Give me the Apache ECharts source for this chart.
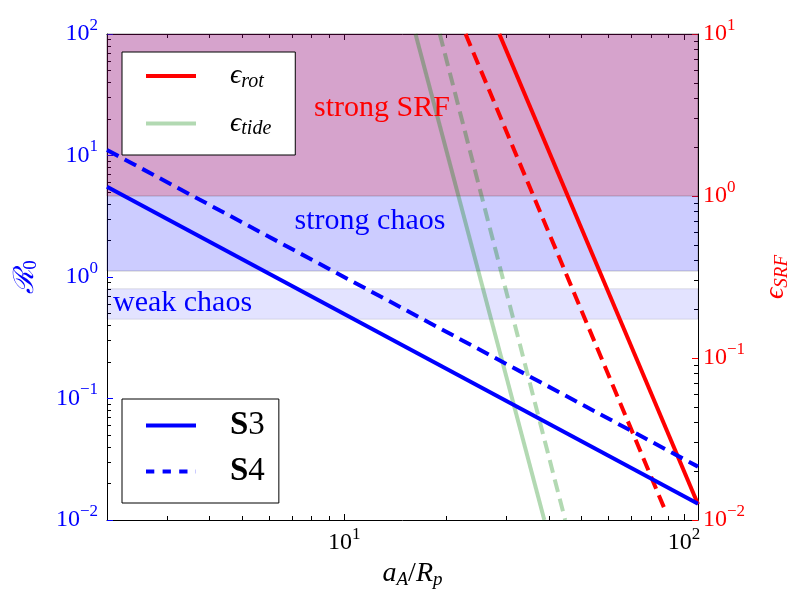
<!DOCTYPE html>
<html><head><meta charset="utf-8">
<script src="https://cdn.jsdelivr.net/npm/echarts@6/dist/echarts.min.js"></script>
<style>html,body{margin:0;padding:0;background:#fff}#c{width:800px;height:600px}</style>
</head><body><div id="c"></div>
<script>
// ---- data ----
const xRange = [2, 110];
const r0Range = [0.01, 100];
const srfRange = [0.01, 10];
const xMajor = [10, 100];
const xMinor = [3, 4, 5, 6, 7, 8, 9, 20, 30, 40, 50, 60, 70, 80, 90];
const r0Major = [0.01, 0.1, 1, 10, 100];
const r0Minor = [0.02, 0.03, 0.04, 0.05, 0.06, 0.07, 0.08, 0.09,
                 0.2, 0.3, 0.4, 0.5, 0.6, 0.7, 0.8, 0.9,
                 2, 3, 4, 5, 6, 7, 8, 9,
                 20, 30, 40, 50, 60, 70, 80, 90];
const srfMajor = [0.01, 0.1, 1, 10];
const srfMinor = [0.02, 0.03, 0.04, 0.05, 0.06, 0.07, 0.08, 0.09,
                  0.2, 0.3, 0.4, 0.5, 0.6, 0.7, 0.8, 0.9,
                  2, 3, 4, 5, 6, 7, 8, 9];

const s3 = [[2, 5.53], [110, 0.0136]];
const s4 = [[2, 11.1], [110, 0.0275]];
const epsRotS3 = [[28.6, 10], [110, 0.0125]];
const epsRotS4 = [[22.75, 10], [88.8, 0.011]];
const epsTideS3 = [[16.2, 10], [38.8, 0.01]];
const epsTideS4 = [[19.1, 10], [44.7, 0.01]];

const strongChaos = [1.12, 100];
const weakChaos = [0.45, 0.8];
const strongSRF = [1, 10];

// ---- styling ----
const fam = "'Liberation Serif', 'DejaVu Serif', serif";
const BLUE = '#0000ff', RED = '#ff0000', GREEN = 'rgba(0,128,0,0.3)';
const DASH = [13, 7];

function powLabel(v) {
  const e = Math.round(Math.log10(v));
  return '{b|10}{s|' + (e < 0 ? '\u2212' + (-e) : e) + '}';
}
function richFor(color) {
  return {
    b: {fontSize: 24, fontFamily: fam, color: color},
    s: {fontSize: 17, fontFamily: fam, color: color, padding: [0, 0, 17, 0]}
  };
}
function baseLog(range, pos) {
  return {type: 'log', logBase: 10, min: range[0], max: range[1], position: pos,
    splitLine: {show: false}, minorTick: {show: false}, minorSplitLine: {show: false}};
}
function majorAxis(range, pos, tickVals, tickColor, labelColor, showLabel, margin) {
  return Object.assign(baseLog(range, pos), {
    axisLine: {show: true, lineStyle: {color: '#000', width: 1}},
    axisTick: {show: true, inside: true, length: 6, customValues: tickVals, lineStyle: {color: tickColor, width: 1}},
    axisLabel: showLabel ? {show: true, customValues: tickVals, formatter: powLabel, rich: richFor(labelColor), margin: margin} : {show: false}
  });
}
function minorAxis(range, pos, tickVals) {
  return Object.assign(baseLog(range, pos), {
    axisLine: {show: false},
    axisTick: {show: true, inside: true, length: 4, customValues: tickVals, lineStyle: {color: '#000', width: 1}},
    axisLabel: {show: false}
  });
}

const xMain = majorAxis(xRange, 'bottom', xMajor, '#000', '#000', true, 6);
Object.assign(xMain, {
  name: '{a|a}{sa|A}{n|/}{a|R}{sa|p}', nameLocation: 'middle', nameGap: 30,
  nameTextStyle: {padding: [0, 0, 0, 20], rich: {
    a: {fontSize: 28, fontStyle: 'italic', fontFamily: fam, color: '#000'},
    n: {fontSize: 28, fontFamily: fam, color: '#000'},
    sa: {fontSize: 19, fontStyle: 'italic', fontFamily: fam, color: '#000', padding: [12, 0, 0, 0]}
  }}
});
const yLeft = majorAxis(r0Range, 'left', r0Major, BLUE, BLUE, true, 9);
Object.assign(yLeft, {
  name: '{r|\u211B}{s|0}', nameLocation: 'middle', nameGap: 66, nameRotate: 90,
  nameTextStyle: {rich: {
    r: {fontSize: 28, fontStyle: 'italic', fontFamily: fam, color: BLUE},
    s: {fontSize: 19, fontFamily: fam, color: BLUE, padding: [12, 0, 0, 0]}
  }}
});
const yRight = majorAxis(srfRange, 'right', srfMajor, RED, RED, true, 5);
Object.assign(yRight, {
  name: '{e|\u03F5}{s|SRF}', nameLocation: 'middle', nameGap: 62, nameRotate: 90,
  nameTextStyle: {rich: {
    e: {fontSize: 28, fontStyle: 'italic', fontFamily: fam, color: RED},
    s: {fontSize: 19, fontStyle: 'italic', fontFamily: fam, color: RED, padding: [12, 0, 0, 0]}
  }}
});

function lineSeries(name, data, yIdx, color, dashed, extra) {
  return Object.assign({
    name: name, type: 'line', xAxisIndex: 0, yAxisIndex: yIdx, data: data,
    symbol: 'none', silent: true, clip: true, animation: false,
    lineStyle: {color: color, width: 4, type: dashed ? DASH : 'solid'},
    itemStyle: {color: color}
  }, extra || {});
}

const legendText = {
  eps_rot: '{e|\u03F5}{s|rot}',
  eps_tide: '{e|\u03F5}{s|tide}',
  S3: '{S|S}{d|3}',
  S4: '{S|S}{d|4}'
};
const hiddenSymbol = {color: 'transparent', borderWidth: 0, borderColor: 'transparent', opacity: 0};

const option = {
  animation: false,
  backgroundColor: '#fff',
  grid: {left: 107, right: 102, top: 34, bottom: 80, containLabel: false},
  xAxis: [xMain, minorAxis(xRange, 'bottom', xMinor),
          majorAxis(xRange, 'top', xMajor, '#000', '#000', false), minorAxis(xRange, 'top', xMinor)],
  yAxis: [yLeft, minorAxis(r0Range, 'left', r0Minor), yRight, minorAxis(srfRange, 'right', srfMinor)],
  legend: [
    {
      data: ['eps_rot', 'eps_tide'], orient: 'vertical', left: 122, top: 52,
      padding: [10, 24, 16, 22], itemWidth: 50, itemHeight: 14, itemGap: 18,
      backgroundColor: '#fff', borderColor: '#000', borderWidth: 1, borderRadius: 0,
      selectedMode: false, lineStyle: {width: 4}, itemStyle: hiddenSymbol,
      formatter: n => legendText[n],
      textStyle: {rich: {
        e: {fontSize: 28, fontStyle: 'italic', fontFamily: fam, color: '#000', padding: [0, 0, 0, 29], lineHeight: 30},
        s: {fontSize: 20, fontStyle: 'italic', fontFamily: fam, color: '#000', padding: [11, 0, 0, 0], width: 40}
      }}
    },
    {
      data: ['S3', {name: 'S4', lineStyle: {type: [8.3, 8.3]}}], orient: 'vertical', left: 122, top: 399,
      padding: [10, 14, 15, 22], itemWidth: 50, itemHeight: 14, itemGap: 13,
      backgroundColor: '#fff', borderColor: '#000', borderWidth: 1, borderRadius: 0,
      selectedMode: false, lineStyle: {width: 4}, itemStyle: hiddenSymbol,
      formatter: n => legendText[n],
      textStyle: {rich: {
        S: {fontSize: 33, fontWeight: 'bold', fontFamily: fam, color: '#000', padding: [0, 0, 0, 29], lineHeight: 34},
        d: {fontSize: 33, fontFamily: fam, color: '#000', lineHeight: 34}
      }}
    }
  ],
  graphic: [
    {type: 'text', z: 10, x: 382, y: 108, style: {text: 'strong SRF', fill: RED, font: '30px ' + fam, textAlign: 'center', textVerticalAlign: 'middle'}},
    {type: 'text', z: 10, x: 370, y: 221, style: {text: 'strong chaos', fill: BLUE, font: '30px ' + fam, textAlign: 'center', textVerticalAlign: 'middle'}},
    {type: 'text', z: 10, x: 113, y: 303, style: {text: 'weak chaos', fill: BLUE, font: '30px ' + fam, textAlign: 'left', textVerticalAlign: 'middle'}}
  ],
  series: [
    lineSeries('S3', s3, 0, BLUE, false, {z: 4, markArea: {silent: true, z: 1, data: [
      [{yAxis: strongChaos[0], itemStyle: {color: 'rgba(0,0,255,0.2)', borderColor: 'rgba(0,0,0,0.2)', borderWidth: 1}}, {yAxis: strongChaos[1]}],
      [{yAxis: weakChaos[0], itemStyle: {color: 'rgba(0,0,255,0.11)', borderColor: 'rgba(0,0,0,0.1)', borderWidth: 1}}, {yAxis: weakChaos[1]}]
    ]}}),
    lineSeries('S4', s4, 0, BLUE, true, {z: 4}),
    lineSeries('eps_tide', epsTideS3, 2, GREEN, false, {z: 2}),
    lineSeries('eps_tide_d', epsTideS4, 2, GREEN, true, {z: 2}),
    lineSeries('eps_rot', epsRotS3, 2, RED, false, {z: 3, markArea: {silent: true, z: 1.5, data: [
      [{yAxis: strongSRF[0], itemStyle: {color: 'rgba(255,0,0,0.2)', borderColor: 'rgba(0,0,0,0.2)', borderWidth: 1}}, {yAxis: strongSRF[1]}]
    ]}}),
    lineSeries('eps_rot_d', epsRotS4, 2, RED, true, {z: 3})
  ]
};
const chart = echarts.init(document.getElementById('c'), null, {renderer: 'canvas'});
chart.setOption(option);
</script>
</body></html>
